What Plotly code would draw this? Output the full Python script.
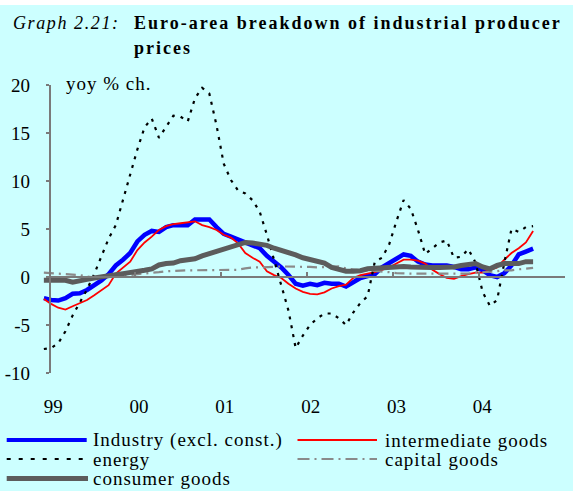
import plotly.graph_objects as go

# ---------------- data (yoy % change, monthly, approx Jan-1999 .. Sep-2004) ----------------
industry = [-2.2, -2.4, -2.45, -2.2, -1.75, -1.7, -1.35, -0.9, -0.35, 0.3,
            1.2, 1.8, 2.5, 3.7, 4.4, 4.8, 4.7, 5.2, 5.4, 5.4,
            5.4, 6.0, 6.0, 6.0, 5.2, 4.5, 4.2, 3.9, 3.7, 3.3,
            3.0, 2.2, 1.6, 1.0, 0.2, -0.7, -0.9, -0.7, -0.85, -0.6,
            -0.7, -0.7, -1.0, -0.5, -0.1, 0.1, 0.3, 1.0, 1.4, 1.9,
            2.35, 2.2, 1.6, 1.3, 1.2, 1.2, 1.2, 1.05, 0.8, 0.8,
            1.0, 0.7, 0.2, 0.0, 0.4, 1.2, 2.35, 2.65, 2.95]
intermediate = [-2.3, -2.8, -3.2, -3.4, -3.05, -2.7, -2.4, -1.9, -1.4, -0.85,
                0.35, 1.0, 1.6, 2.8, 3.6, 4.2, 4.9, 5.3, 5.5, 5.6,
                5.7, 5.8, 5.4, 5.2, 4.9, 4.4, 4.1, 3.5, 2.5, 2.0,
                1.6, 0.6, 0.2, -0.1, -0.7, -1.2, -1.55, -1.75, -1.8, -1.6,
                -1.2, -0.95, -0.8, -0.1, 0.2, 0.35, 0.5, 0.75, 1.0, 1.4,
                1.8, 1.8, 1.7, 1.4, 0.75, 0.3, -0.1, -0.2, 0.1, 0.3,
                0.45, 0.45, 0.7, 1.0, 1.8, 2.5, 3.0, 3.6, 4.8]
energy = [-7.5, -7.4, -6.9, -5.65, -4.0, -2.6, -1.3, 0.3, 2.2, 4.0,
          5.4, 8.0, 10.8, 13.3, 15.6, 16.5, 14.5, 15.6, 16.8, 16.7,
          16.2, 18.6, 19.7, 19.1, 15.8, 11.8, 10.1, 9.0, 8.7, 8.0,
          6.8, 4.4, 1.8, -0.9, -3.5, -7.4, -6.1, -5.0, -4.3, -3.8,
          -3.8, -4.3, -5.0, -3.7, -2.7, -2.0, 1.6, 2.0, 3.4, 5.8,
          8.0, 7.1, 4.9, 2.4, 3.0, 3.6, 3.8, 2.0, 2.1, 2.9,
          1.5, -1.6, -3.0, -2.4, 1.5, 5.0, 4.7, 5.2, 5.3]
capital = [0.45, 0.4, 0.35, 0.3, 0.25, 0.2, 0.05, -0.05, -0.05, 0.0,
           0.05, 0.1, 0.2, 0.3, 0.35, 0.45, 0.5, 0.6, 0.65, 0.65,
           0.7, 0.7, 0.7, 0.7, 0.7, 0.7, 0.7, 0.75, 0.9, 1.0,
           1.0, 1.0, 1.05, 1.1, 1.1, 1.1, 1.05, 1.05, 1.0, 1.05,
           1.1, 1.1, 0.9, 0.8, 0.7, 0.7, 0.65, 0.6, 0.5, 0.4,
           0.35, 0.35, 0.35, 0.35, 0.35, 0.35, 0.35, 0.35, 0.35, 0.35,
           0.45, 0.5, 0.5, 0.6, 0.7, 0.7, 0.8, 0.85, 0.95]
consumer = [-0.35, -0.35, -0.35, -0.35, -0.55, -0.45, -0.25, -0.1, 0.05, 0.15,
            0.25, 0.35, 0.45, 0.5, 0.7, 0.85, 1.25, 1.4, 1.45, 1.7,
            1.8, 1.9, 2.2, 2.45, 2.65, 2.85, 3.1, 3.45, 3.6, 3.55,
            3.45, 3.3, 3.0, 2.8, 2.6, 2.3, 2.0, 1.85, 1.7, 1.45,
            1.0, 0.8, 0.6, 0.6, 0.65, 0.85, 0.9, 1.0, 1.05, 1.1,
            1.1, 1.05, 1.0, 1.0, 1.0, 1.0, 1.0, 1.05, 1.2, 1.25,
            1.4, 1.05, 0.85, 1.2, 1.4, 1.4, 1.4, 1.6, 1.6]
year_labels = ["99", "00", "01", "02", "03", "04"]
y_ticks = [-10, -5, 0, 5, 10, 15, 20]

# ---------------- geometry ----------------
W, H = 573, 491
ML, MR, MT, MB = 41, 7, 85, 118
X_MIN, X_MAX = -1.2, 72.2
n = len(industry)
x_first, x_last = -0.8, 67.6
months = [x_first + k * (x_last - x_first) / (n - 1) for k in range(n)]

PW, PH = W - ML - MR, H - MT - MB


def px2x(px):
    return (px - ML) / PW


def px2y(py):
    return (H - MB - py) / PH


FONT = "Liberation Serif"
BG = "#CCFFFF"
AXC = "#7a7a7a"

fig = go.Figure()
fig.add_trace(go.Scatter(x=months, y=industry, mode="lines", name="Industry (excl. const.)",
                         line=dict(color="#0000FF", width=4.5)))
fig.add_trace(go.Scatter(x=months, y=intermediate, mode="lines", name="intermediate goods",
                         line=dict(color="#FF0000", width=1.8)))
fig.add_trace(go.Scatter(x=months, y=energy, mode="lines", name="energy",
                         line=dict(color="#000000", width=2.2, dash="3px,6px")))
fig.add_trace(go.Scatter(x=months, y=capital, mode="lines", name="capital goods",
                         line=dict(color="#8a8a8a", width=2.2, dash="10px,5px,2px,5px")))
fig.add_trace(go.Scatter(x=months, y=consumer, mode="lines", name="consumer goods",
                         line=dict(color="#5c5c5c", width=5)))
# empty helper trace so the zero-line axis gets drawn
fig.add_trace(go.Scatter(x=[], y=[], xaxis="x2", yaxis="y", showlegend=False, hoverinfo="skip"))

p0 = (0 - X_MIN) / (X_MAX - X_MIN)
p1 = (72 - X_MIN) / (X_MAX - X_MIN)

fig.update_layout(
    template="none",
    width=W, height=H, autosize=False,
    margin=dict(l=ML, r=MR, t=MT, b=MB, pad=0),
    paper_bgcolor=BG, plot_bgcolor="rgba(0,0,0,0)",
    showlegend=False,
    font=dict(family=FONT, size=19, color="#000000"),
    xaxis=dict(range=[X_MIN, X_MAX], tickvals=[12 * i + 0.5 for i in range(len(year_labels))],
               ticktext=year_labels, ticks="", showline=False, showgrid=False, zeroline=False,
               automargin=False,
               ticklabelstandoff=20, tickfont=dict(family=FONT, size=19, color="#000")),
    xaxis2=dict(range=[0, 72], domain=[p0, p1], anchor="free", position=(0 - (-10)) / 30,
                tickvals=[12 * i for i in range(7)], ticks="inside", ticklen=4, tickcolor=AXC,
                tickwidth=1.5, showticklabels=False, showline=True, linecolor=AXC, linewidth=2,
                showgrid=False, zeroline=False, automargin=False),
    yaxis=dict(range=[-10, 20], tickvals=y_ticks, ticktext=[str(v) for v in y_ticks],
               anchor="free", position=p0, showline=True, linecolor=AXC, linewidth=1.5,
               ticks="outside", ticklen=3, tickcolor=AXC, tickwidth=1.5, automargin=False,
               showgrid=False, zeroline=False, ticklabelstandoff=12,
               tickfont=dict(family=FONT, size=19, color="#000")),
)

shapes = [dict(type="rect", xref="paper", yref="paper", x0=px2x(0), x1=px2x(W),
               y0=px2y(0), y1=px2y(5), fillcolor="#FFFFFF", line=dict(width=0), layer="below")]

# manual legend
legend_items = [
    ("Industry (excl. const.)", 6.7, 86.7, 91, 440, dict(color="#0000FF", width=4)),
    ("intermediate goods", 297.5, 377, 383, 440, dict(color="#FF0000", width=2)),
    ("energy", 6.7, 86.7, 91, 459, dict(color="#000000", width=2, dash="4px,8px")),
    ("capital goods", 297.5, 377, 383, 459, dict(color="#8a8a8a", width=2, dash="12px,5px,2px,5px")),
    ("consumer goods", 6.7, 88, 91, 478.5, dict(color="#5c5c5c", width=5)),
]
annotations = []
for label, lx0, lx1, tx, ty, ln in legend_items:
    shapes.append(dict(type="line", xref="paper", yref="paper", x0=px2x(lx0), x1=px2x(lx1),
                       y0=px2y(ty), y1=px2y(ty), line=ln))
    annotations.append(dict(xref="paper", yref="paper", x=px2x(tx), y=px2y(ty),
                            xanchor="left", yanchor="middle", showarrow=False,
                            text='<span style="letter-spacing:1px">' + label + "</span>",
                            font=dict(family=FONT, size=19, color="#000")))

annotations.append(dict(xref="paper", yref="paper", x=px2x(64), y=px2y(83.5),
                        xanchor="left", yanchor="middle", showarrow=False,
                        text='<span style="letter-spacing:1px">yoy % ch.</span>',
                        font=dict(family=FONT, size=19, color="#000")))
annotations.append(dict(xref="paper", yref="paper", x=px2x(11), y=px2y(22.5),
                        xanchor="left", yanchor="middle", showarrow=False,
                        text='<i><span style="letter-spacing:1.6px">Graph 2.21:</span></i>',
                        font=dict(family=FONT, size=18, color="#000")))
annotations.append(dict(xref="paper", yref="paper", x=px2x(132), y=px2y(22.5),
                        xanchor="left", yanchor="middle", showarrow=False,
                        text='<b><span style="letter-spacing:2px">Euro-area breakdown of industrial producer</span></b>',
                        font=dict(family=FONT, size=18, color="#000")))
annotations.append(dict(xref="paper", yref="paper", x=px2x(132), y=px2y(47.5),
                        xanchor="left", yanchor="middle", showarrow=False,
                        text='<b><span style="letter-spacing:2px">prices</span></b>',
                        font=dict(family=FONT, size=18, color="#000")))

fig.update_layout(shapes=shapes, annotations=annotations)
fig.write_html("out.html", config={"displayModeBar": False},
               post_script="document.body.style.margin='0px';document.body.style.padding='0px';")
